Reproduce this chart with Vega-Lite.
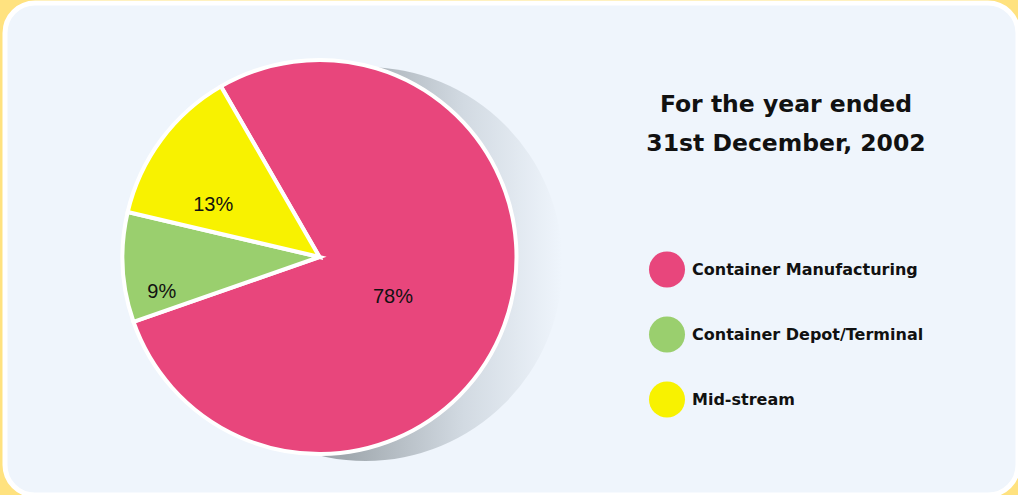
{
  "$schema": "https://vega.github.io/schema/vega-lite/v6.json",
  "width": 1018,
  "height": 495,
  "autosize": {"type": "fit", "contains": "padding"},
  "padding": {"left": 5, "top": 3, "right": 0, "bottom": 0},
  "background": "#FFE27F",
  "view": {"fill": "#EFF5FC", "stroke": "#FFFFFF", "strokeWidth": 5, "cornerRadius": 30},
  "config": {
    "font": "Liberation Sans"
  },
  "data": {
    "values": [
      {"category": "Container Manufacturing", "value": 78, "label": "78%"},
      {"category": "Container Depot/Terminal", "value": 9, "label": "9%"},
      {"category": "Mid-stream", "value": 13, "label": "13%"}
    ]
  },
  "layer": [
    {
      "data": {"values": [{}]},
      "mark": {
        "type": "arc",
        "theta": 0,
        "theta2": 6.2832,
        "outerRadius": 197,
        "xOffset": -146,
        "yOffset": 15,
        "fill": {
          "gradient": "linear",
          "x1": 0, "y1": 0.5, "x2": 1, "y2": 0.5,
          "stops": [
            {"offset": 0, "color": "#868e94"},
            {"offset": 0.45, "color": "#a0a8ae"},
            {"offset": 0.75, "color": "#d2dae2"},
            {"offset": 1, "color": "#EFF5FC"}
          ]
        }
      },
      "encoding": {}
    },
    {
      "mark": {
        "type": "arc",
        "outerRadius": 197,
        "stroke": "#FFFFFF",
        "strokeWidth": 4,
        "xOffset": -192,
        "yOffset": 8
      },
      "encoding": {
        "theta": {"field": "value", "type": "quantitative", "stack": true, "scale": {"range": [4.9428, 11.226]}},
        "order": {"field": "category", "sort": "descending"},
        "color": {
          "field": "category",
          "type": "nominal",
          "scale": {
            "domain": ["Container Manufacturing", "Container Depot/Terminal", "Mid-stream"],
            "range": ["#E8467C", "#9ACF6E", "#F8F200"]
          },
          "legend": {
            "orient": "none",
            "legendX": 641,
            "legendY": 90,
            "title": ["For the year ended", "31st December, 2002"],
            "titleFontSize": 23.5,
            "titleFont": "DejaVu Sans",
            "titleFontWeight": "bold",
            "titleColor": "#111111",
            "titleLineHeight": 39,
            "titleAnchor": "middle",
            "titleAlign": "center",
            "titleBaseline": "top",
            "titlePadding": 96,
            "titleLimit": 500,
            "symbolType": "circle",
            "symbolSize": 1296,
            "symbolStrokeWidth": 0,
            "symbolOpacity": 1,
            "labelFontSize": 16,
            "labelFont": "DejaVu Sans",
            "labelFontWeight": "bold",
            "labelColor": "#111111",
            "labelOffset": 7,
            "rowPadding": 29,
            "padding": 0,
            "labelLimit": 400
          }
        }
      }
    },
    {
      "mark": {"type": "text", "fontSize": 20, "font": "Liberation Sans", "color": "#111111", "xOffset": -202, "yOffset": 17, "radius": 89},
      "encoding": {
        "theta": {"field": "value", "type": "quantitative", "stack": true, "scale": {"range": [4.9428, 11.226]}},
        "order": {"field": "category", "sort": "descending"},
        "text": {"condition": {"test": "datum.category === 'Container Manufacturing'", "field": "label"}, "value": ""}
      }
    },
    {
      "mark": {"type": "text", "fontSize": 20, "font": "Liberation Sans", "color": "#111111", "xOffset": -190, "yOffset": 35, "radius": 160},
      "encoding": {
        "theta": {"field": "value", "type": "quantitative", "stack": true, "scale": {"range": [4.9428, 11.226]}},
        "order": {"field": "category", "sort": "descending"},
        "text": {"condition": {"test": "datum.category === 'Container Depot/Terminal'", "field": "label"}, "value": ""}
      }
    },
    {
      "mark": {"type": "text", "fontSize": 20, "font": "Liberation Sans", "color": "#111111", "xOffset": -202, "yOffset": 28, "radius": 120},
      "encoding": {
        "theta": {"field": "value", "type": "quantitative", "stack": true, "scale": {"range": [4.9428, 11.226]}},
        "order": {"field": "category", "sort": "descending"},
        "text": {"condition": {"test": "datum.category === 'Mid-stream'", "field": "label"}, "value": ""}
      }
    }
  ]
}
